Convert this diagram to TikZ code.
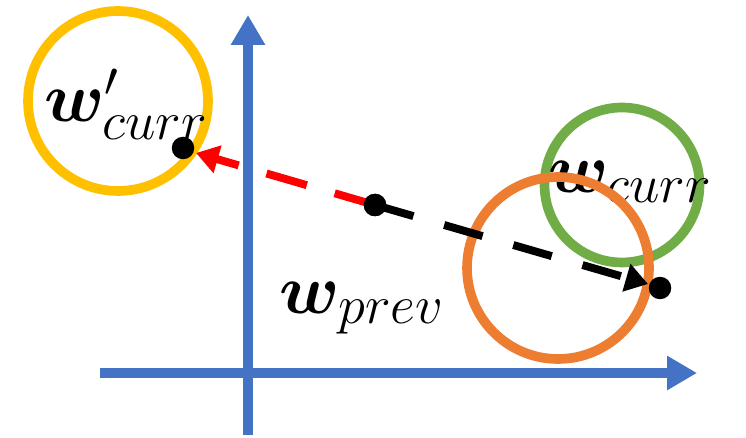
\RequirePackage{fix-cm}
\documentclass[tikz,border=0pt]{standalone}
\usepackage{amsmath}
\usepackage{bm}
\usepackage{tikz}
\usetikzlibrary{arrows.meta}
\usepackage{xcolor}

\definecolor{axisblue}{HTML}{4472C4}
\definecolor{ringyellow}{HTML}{FFC000}
\definecolor{ringgreen}{HTML}{70AD47}
\definecolor{ringorange}{HTML}{ED7D31}

% weight symbol with a large subscript
\newcommand{\wsub}[1]{\text{\fontsize{31}{34}\selectfont$#1$}}

\tikzset{
	ring/.style={draw, circle, line width=5.5pt, inner sep=0pt},
	dot/.style={fill=black, circle, minimum size=0.45cm, inner sep=0pt},
	axis/.style={draw=axisblue, line width=5.5pt, -{Triangle[length=0.6cm, width=0.65cm]}},
	wlabel/.style={font=\fontsize{40}{44}\selectfont, inner sep=0pt},
}

\begin{document}
\begin{tikzpicture}[x=0.02cm, y=-0.02cm]
	\useasboundingbox (0,0) rectangle (746,438);
%	axes
	\coordinate (xs) at (100,373);
	\coordinate (xe) at (697,373);
	\coordinate (ys) at (248,435);
	\coordinate (ye) at (248,15);
	\draw[axis] (xs) -- (xe);
	\draw[axis] (ys) -- (ye);
%	regions and labels
	\node[ring, draw=ringyellow, minimum size=3.6cm, name=cprime] at (118,101) {};
	\node[wlabel, name=lprime] at (126,104) {$\bm{w}'_{\wsub{curr}}$};
	\node[ring, draw=ringgreen, minimum size=3.1cm, name=ccurr] at (622,185) {};
	\node[wlabel, name=lcurr] at (630,182) {$\bm{w}_{\wsub{curr}}$};
	\node[ring, draw=ringorange, minimum size=3.64cm, name=cprev] at (558,268) {};
	\node[wlabel, name=lprev] at (362,308) {$\bm{w}_{\wsub{prev}}$};
%	weights
	\node[dot, name=pprev] at (375,205) {};
	\node[dot, name=pcurr] at (660,288) {};
	\node[dot, name=pprime] at (183,148) {};
	\coordinate (tcurr) at (648,284);
	\coordinate (tprime) at (196,153);
	\draw[red, line width=4.5pt, dash pattern=on 0.84cm off 0.58cm,
		-{Triangle[length=0.45cm, width=0.55cm]}] (pprev.center) -- (tprime);
	\draw[black, line width=4.5pt, dash pattern=on 0.8cm off 0.64cm,
		-{Triangle[length=0.45cm, width=0.55cm]}] (pprev.center) -- (tcurr);
	\node[dot, name=pprevtop] at (pprev) {};
\end{tikzpicture}
\end{document}
